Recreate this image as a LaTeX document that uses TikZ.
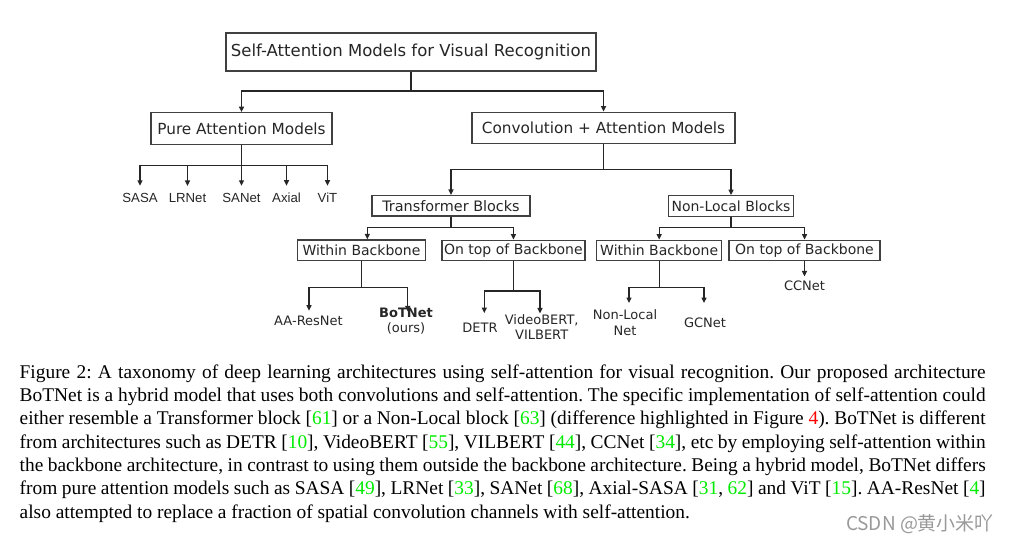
\documentclass[tikz,border=0pt]{standalone}
\usepackage{fontspec}
\setmainfont{Liberation Serif}
\newfontfamily\verd{DejaVu Sans}
\newfontfamily\arialf{Liberation Sans}
\newfontfamily\cjkf{Noto Sans CJK SC}
\usetikzlibrary{arrows.meta}
\definecolor{citec}{RGB}{0,235,0}
\definecolor{refred}{RGB}{255,0,0}
\definecolor{boxc}{gray}{0.25}
\definecolor{linec}{gray}{0.15}
\newcommand{\ct}[1]{[\textcolor{citec}{#1}]}
\begin{document}
\begin{tikzpicture}[x=1pt,y=-1pt,
  box/.style={draw=boxc,line width=1.3pt,inner sep=0pt,text=black!85},
  ln/.style={draw=linec,line width=1.3pt},
  arr/.style={ln,-{Triangle[length=5.5pt,width=5pt]}},
  lf/.style={inner sep=0pt,font=\verd\fontsize{13}{15.5}\selectfont,align=center,text=black!85},
  lfa/.style={inner sep=0pt,font=\arialf\fontsize{13.2}{15}\selectfont,text=black!85},
  lvA/.style={box,font=\verd\fontsize{16.5}{18}\selectfont},
  lvB/.style={box,font=\verd\fontsize{15.3}{17}\selectfont,minimum height=31.5pt},
  lvC/.style={box,font=\verd\fontsize{14}{16}\selectfont,minimum height=20.5pt},
]
\useasboundingbox (0,0) rectangle (1010,544);

% boxes
\node[lvA,minimum width=370pt,minimum height=38pt] (top) at (411,52) {Self-Attention Models for Visual Recognition};
\node[lvB,minimum width=181pt] (pure) at (241.5,128.5) {Pure Attention Models};
\node[lvB,minimum width=263pt] (conv) at (603.5,128) {Convolution + Attention Models};
\node[lvC,minimum width=158pt,font=\verd\fontsize{14.4}{16}\selectfont] (trans) at (451,205.8) {Transformer Blocks};
\node[lvC,minimum width=125pt] (nlb) at (731,206) {Non-Local Blocks};
\node[lvC,minimum width=128pt] (withinL) at (361.5,250.3) {Within Backbone};
\node[lvC,minimum width=143pt] (ontopL) at (513.4,250.5) {On top of Backbone};
\node[lvC,minimum width=125pt] (withinR) at (659.2,250.5) {Within Backbone};
\node[lvC,minimum width=151pt] (ontopR) at (804.5,250.5) {On top of Backbone};

% leaves
\node[lfa] (sasa) at (140,197.7) {SASA};
\node[lfa] (lrnet) at (187.5,197.7) {LRNet};
\node[lfa] (sanet) at (241.5,197.7) {SANet};
\node[lfa] (axial) at (286.5,197.7) {Axial};
\node[lfa] (vit) at (327.5,197.7) {ViT};
\node[lf] (aares) at (308.5,320.7) {AA-ResNet};
\node[lf] (botnet) at (406,321) {\textbf{BoTNet}\\(ours)};
\node[lf] (detr) at (480,327.7) {DETR};
\node[lf] (video) at (541.7,327.3) {VideoBERT,\\VILBERT};
\node[lf] (nonlocal) at (625,322.5) {Non-Local\\Net};
\node[lf] (gcnet) at (705,322.7) {GCNet};
\node[lf] (ccnet) at (804.5,285.7) {CCNet};

% connectors
\coordinate (j0) at (411,91);
\draw[ln] (top.south) -- (j0);
\draw[arr] (j0) -| (pure.north);
\draw[arr] (j0) -| (conv.north);

\coordinate (j1) at (241.5,165.7);
\draw[ln] (pure.south) -- (j1);
\foreach \n in {sasa,lrnet,sanet,axial,vit}{
  \draw[arr] (j1) -| ([yshift=7pt]\n.north);
}

\coordinate (j2) at (603.5,169.3);
\draw[ln] (conv.south) -- (j2);
\draw[arr] (j2) -| (trans.north);
\draw[arr] (j2) -| (nlb.north);

\coordinate (j3) at (451,227.7);
\draw[ln] (trans.south) -- (j3);
\draw[arr] (j3) -| ([xshift=5.8pt]withinL.north);
\draw[arr] (j3) -| (ontopL.north);

\coordinate (j4) at (731,227.7);
\draw[ln] (nlb.south) -- (j4);
\draw[arr] (j4) -| (withinR.north);
\draw[arr] (j4) -| (ontopR.north);

\coordinate (j5) at (361.5,287.5);
\draw[ln] (withinL.south) -- (j5);
\draw[arr] (j5) -| ([xshift=0.5pt,yshift=5pt]aares.north);
\draw[arr] (j5) -| ([xshift=1.7pt,yshift=-4pt]botnet.north);

\coordinate (j6) at (513.4,291);
\draw[ln] (ontopL.south) -- (j6);
\draw[arr] (j6) -| ([xshift=4.3pt,yshift=9.6pt]detr.north);
\draw[arr] (j6) -| ([xshift=-1.7pt,yshift=1pt]video.north);

\coordinate (j7) at (659.2,287.7);
\draw[ln] (withinR.south) -- (j7);
\draw[arr] (j7) -| ([xshift=4pt,yshift=6.5pt]nonlocal.north);
\draw[arr] (j7) -| ([xshift=-1pt,yshift=14.5pt]gcnet.north);

\draw[arr] (ontopR.south) -- ([yshift=4.2pt]ccnet.north);

% caption
\node[anchor=north west,inner sep=0pt,text width=966pt,align=justify,
  font=\fontsize{19.4}{23.33}\selectfont\frenchspacing] (cap) at (19.5,364.2) {%
Figure 2: A taxonomy of deep learning architectures using self-attention for visual recognition. Our proposed architecture\linebreak
BoTNet is a hybrid model that uses both convolutions and self-attention. The specific implementation of self-attention could\linebreak
either resemble a Transformer block \ct{61} or a Non-Local block \ct{63} (difference highlighted in Figure \textcolor{refred}{4}). BoTNet is different\linebreak
from architectures such as DETR \ct{10}, VideoBERT \ct{55}, VILBERT \ct{44}, CCNet \ct{34}, etc by employing self-attention within\linebreak
the backbone architecture, in contrast to using them outside the backbone architecture. Being a hybrid model, BoTNet differs\linebreak
from pure attention models such as SASA \ct{49}, LRNet \ct{33}, SANet \ct{68}, Axial-SASA [\textcolor{citec}{31}, \textcolor{citec}{62}] and ViT \ct{15}. AA-ResNet \ct{4}\linebreak
also attempted to replace a fraction of spatial convolution channels with self-attention.};

\node[font=\cjkf\fontsize{19}{21}\selectfont,text=black!40] (wm) at (920,524) {CSDN @黄小米吖};
\end{tikzpicture}
\end{document}
